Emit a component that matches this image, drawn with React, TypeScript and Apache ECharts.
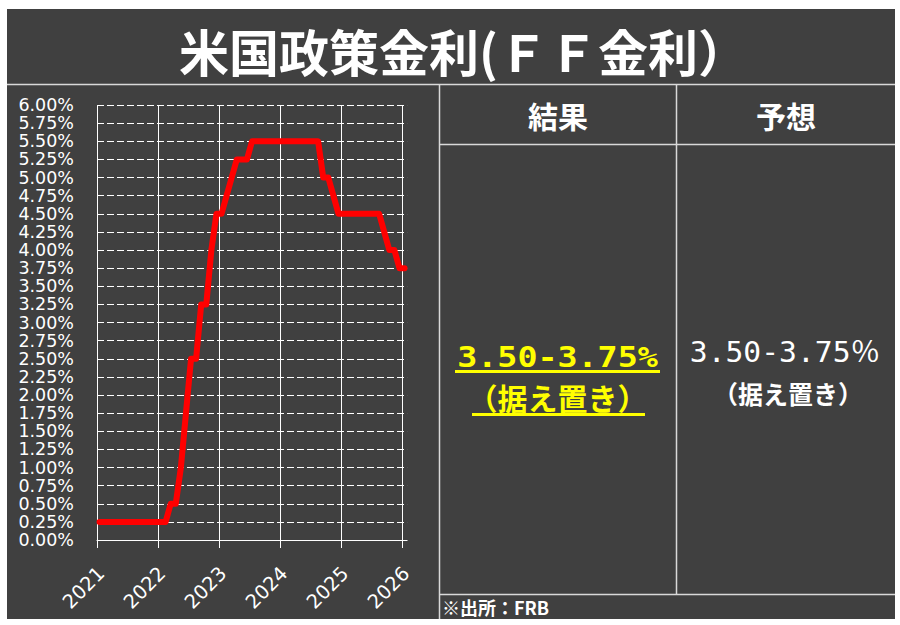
import React, { useEffect, useRef } from 'react';
import * as echarts from 'echarts';

// ---- data ----
const months: string[] = [
  '2021-01', '2021-02', '2021-03', '2021-04', '2021-05', '2021-06', '2021-07', '2021-08', '2021-09', '2021-10', '2021-11', '2021-12',
  '2022-01', '2022-02', '2022-03', '2022-04', '2022-05', '2022-06', '2022-07', '2022-08', '2022-09', '2022-10', '2022-11', '2022-12',
  '2023-01', '2023-02', '2023-03', '2023-04', '2023-05', '2023-06', '2023-07', '2023-08', '2023-09', '2023-10', '2023-11', '2023-12',
  '2024-01', '2024-02', '2024-03', '2024-04', '2024-05', '2024-06', '2024-07', '2024-08', '2024-09', '2024-10', '2024-11', '2024-12',
  '2025-01', '2025-02', '2025-03', '2025-04', '2025-05', '2025-06', '2025-07', '2025-08', '2025-09', '2025-10', '2025-11', '2025-12',
  '2026-01',
];
const rates: number[] = [
  0.25, 0.25, 0.25, 0.25, 0.25, 0.25, 0.25, 0.25, 0.25, 0.25, 0.25, 0.25,
  0.25, 0.25, 0.5, 0.5, 1.0, 1.75, 2.5, 2.5, 3.25, 3.25, 4.0, 4.5,
  4.5, 4.75, 5.0, 5.25, 5.25, 5.25, 5.5, 5.5, 5.5, 5.5, 5.5, 5.5,
  5.5, 5.5, 5.5, 5.5, 5.5, 5.5, 5.5, 5.5, 5.0, 5.0, 4.75, 4.5,
  4.5, 4.5, 4.5, 4.5, 4.5, 4.5, 4.5, 4.5, 4.25, 4.0, 4.0, 3.75,
  3.75,
];
const yearLabels: string[] = ['2021', '2022', '2023', '2024', '2025', '2026'];
const rateStep = 0.25;
const rateMax = 6;

const titleText = '米国政策金利(ＦＦ金利）';
const headers: string[] = ['結果', '予想'];
const resultRange = '3.50-3.75%';
const resultNote = '（据え置き）';
const forecastRange = '3.50-3.75％';
const forecastNote = '（据え置き）';
const sourceText = '※出所：FRB';

const BG = '#404040';
const LINE = '#d9d9d9';
const CJK = '"Noto Sans CJK JP", "Noto Sans CJK SC", sans-serif';

export default function App() {
  const ref = useRef<HTMLDivElement>(null);

  useEffect(() => {
    if (!ref.current) return;
    const chart = echarts.init(ref.current, undefined, { renderer: 'svg' });

    const firstYear = Number(yearLabels[0]);
    const lastYear = Number(yearLabels[yearLabels.length - 1]);
    const seriesData = months.map((m, i) => {
      const [y, mo] = m.split('-').map(Number);
      return [y + (mo - 0.5) / 12, rates[i]];
    });

    const gridLeft = 97;
    const gridTop = 105;
    const gridW = 305;
    const gridH = 435;
    const extMax = lastYear + 1 / 12;
    const gridW2 = (gridW * (extMax - firstYear)) / (lastYear - firstYear);

    const hline = (x1: number, x2: number, y: number) => ({
      type: 'line',
      z: 10,
      silent: true,
      shape: { x1, y1: y, x2, y2: y },
      style: { stroke: LINE, lineWidth: 1.5 },
    });
    const vline = (x: number, y1: number, y2: number) => ({
      type: 'line',
      z: 10,
      silent: true,
      shape: { x1: x, y1, x2: x, y2 },
      style: { stroke: LINE, lineWidth: 1.5 },
    });
    const text = (
      t: string,
      x: number,
      y: number,
      size: number,
      weight: string,
      family: string,
      fill: string,
      align: string = 'center',
      scaleX: number = 1
    ) => ({
      type: 'text',
      z: 10,
      silent: true,
      x,
      y,
      scaleX,
      style: {
        text: t,
        x: 0,
        y: 0,
        fontSize: size,
        fontWeight: weight,
        fontFamily: family,
        fill,
        align,
        textAlign: align,
        verticalAlign: 'middle',
        textVerticalAlign: 'middle',
      },
    });

    const option: any = {
      animation: false,
      backgroundColor: '#ffffff',
      grid: [
        { left: gridLeft, top: gridTop, width: gridW, height: gridH, containLabel: false, outerBoundsMode: 'none' },
        { left: gridLeft, top: gridTop, width: gridW2, height: gridH, containLabel: false, outerBoundsMode: 'none' },
      ],
      xAxis: [
        {
          gridIndex: 0,
          type: 'value',
          min: firstYear,
          max: lastYear,
          interval: 1,
          axisLine: { show: false },
          axisTick: { show: true, length: 8, lineStyle: { color: '#ffffff', width: 1 } },
          axisLabel: {
            show: true,
            rotate: 45,
            margin: 26,
            color: '#ffffff',
            fontFamily: 'DejaVu Sans',
            fontSize: 19.5,
            lineHeight: 12,
            verticalAlign: 'top',
            showMinLabel: true,
            showMaxLabel: true,
            formatter: (v: number) => yearLabels[Math.round(v - firstYear)] ?? '',
          },
          splitLine: { show: true, lineStyle: { color: '#ffffff', width: 1, type: 'solid' } },
        },
        {
          gridIndex: 1,
          type: 'value',
          min: firstYear,
          max: extMax,
          axisLine: { show: true, onZero: false, lineStyle: { color: '#ffffff', width: 1 } },
          axisTick: { show: false },
          axisLabel: { show: false },
          splitLine: { show: false },
        },
      ],
      yAxis: [
        { gridIndex: 0, type: 'value', min: 0, max: rateMax, show: false, splitLine: { show: false } },
        {
          gridIndex: 1,
          type: 'value',
          min: 0,
          max: rateMax,
          interval: rateStep,
          axisLine: { show: false },
          axisTick: { show: false },
          axisLabel: {
            margin: 23,
            color: '#ffffff',
            fontFamily: 'DejaVu Sans',
            fontSize: 17.5,
            lineHeight: 17.5,
            showMinLabel: true,
            showMaxLabel: true,
            formatter: (v: number) => v.toFixed(2) + '%',
          },
          splitLine: { show: true, lineStyle: { color: '#ffffff', width: 1, type: [7, 3] } },
        },
      ],
      series: [
        {
          type: 'line',
          xAxisIndex: 1,
          yAxisIndex: 1,
          data: seriesData,
          showSymbol: false,
          symbol: 'none',
          clip: false,
          z: 5,
          lineStyle: { color: '#ff0000', width: 6, cap: 'round', join: 'round' },
        },
      ],
      graphic: [
        {
          type: 'rect',
          z: -10,
          silent: true,
          shape: { x: 7, y: 9, width: 888, height: 610 },
          style: { fill: BG },
        },
        hline(7, 895, 84.5),
        vline(439.5, 84, 619),
        vline(676.5, 84, 594),
        hline(439.5, 895, 144.5),
        hline(439.5, 895, 594.5),
        text(titleText, 179, 50, 50, 'bold', CJK, '#ffffff', 'left'),
        text(headers[0], 558, 115, 30, 'bold', CJK, '#ffffff'),
        text(headers[1], 786, 115, 30, 'bold', CJK, '#ffffff'),
        text(resultRange, 557.5, 357, 28, 'bold', '"DejaVu Sans Mono", ' + CJK, '#ffff00', 'center', 1.19),
        {
          type: 'line',
          z: 10,
          silent: true,
          shape: { x1: 455, y1: 371.5, x2: 660, y2: 371.5 },
          style: { stroke: '#ffff00', lineWidth: 3 },
        },
        text(resultNote, 557.5, 397, 30, 'bold', CJK, '#ffff00'),
        {
          type: 'line',
          z: 10,
          silent: true,
          shape: { x1: 472, y1: 414.5, x2: 645, y2: 414.5 },
          style: { stroke: '#ffff00', lineWidth: 3 },
        },
        text(forecastRange, 785, 352, 28, 'normal', '"DejaVu Sans Mono", ' + CJK, '#ffffff', 'center', 1.06),
        text(forecastNote, 788, 392.5, 25, 'bold', CJK, '#ffffff'),
        text(sourceText, 442, 607, 18, 'bold', CJK, '#ffffff', 'left'),
      ],
    };

    chart.setOption(option);
    return () => chart.dispose();
  }, []);

  return (
    <div
      ref={ref}
      style={{ position: 'fixed', left: 0, top: 0, width: 900, height: 625 }}
    />
  );
}
